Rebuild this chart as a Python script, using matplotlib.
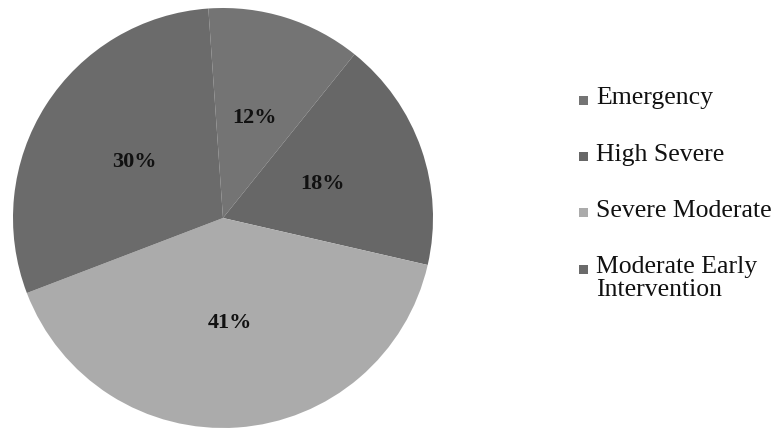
import matplotlib.pyplot as plt
from matplotlib.patches import Rectangle

names = ['Emergency', 'High Severe', 'Severe Moderate', 'Moderate Early\nIntervention']
shares = [12, 18, 41, 30]
colors = ['#747474', '#676767', '#ababab', '#6b6b6b']

fig = plt.figure(figsize=(7.8, 4.29), dpi=100)
ax = fig.add_axes([13 / 780, 1 - 428 / 429, 420 / 780, 420 / 429])

wedges, texts = ax.pie(shares, colors=colors, startangle=94, counterclock=False,
                       labels=[f'{v}%' for v in shares], labeldistance=0.5,
                       wedgeprops=dict(linewidth=0))
for t in texts:
    t.set_fontfamily('Liberation Serif')
    t.set_fontweight('bold')
    t.set_fontsize(16)
    t.set_color('#111111')
    t.set_ha('center')
    t.set_va('center')
ax.set_xlim(-1, 1)
ax.set_ylim(-1, 1)
ax.set_aspect('equal')

# legend drawn by hand so the marker sits on the first text line
for i, (name, c) in enumerate(zip(names, colors)):
    yc = 1 - (100 + 56.5 * i) / 429
    fig.add_artist(Rectangle((579 / 780, yc - 4.5 / 429), 9 / 780, 9 / 429,
                             transform=fig.transFigure, facecolor=c, edgecolor='none'))
    fig.text(596 / 780, yc + 13 / 429, name, fontfamily='Liberation Serif', fontsize=18.5,
             ha='left', va='top', linespacing=1.0, color='#111111')

fig.savefig('out.png', dpi=100)
